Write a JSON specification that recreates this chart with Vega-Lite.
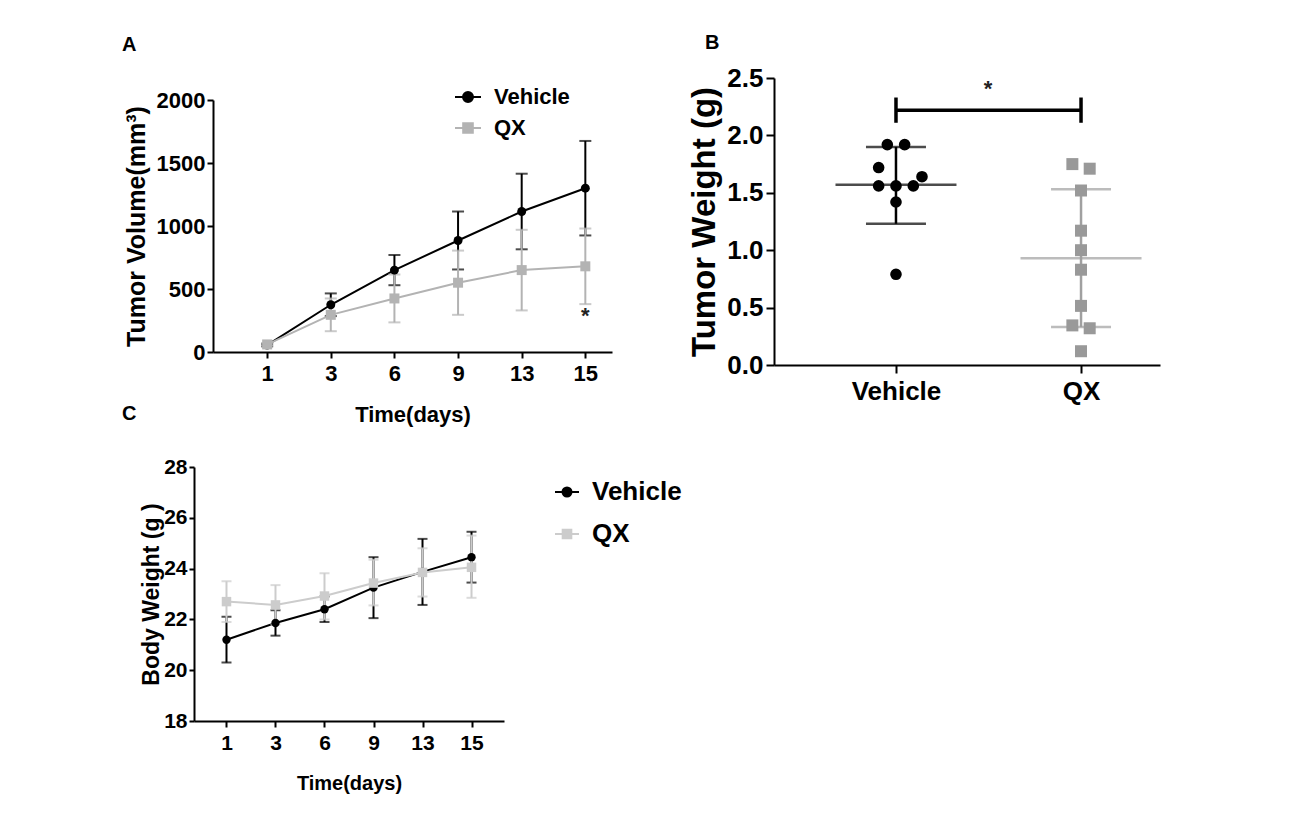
{
  "$schema": "https://vega.github.io/schema/vega-lite/v6.json",
  "autosize": {"type": "none"},
  "padding": {"left": 194, "top": 78, "right": 1122, "bottom": 738},
  "background": "white",
  "config": {
    "font": "Liberation Sans",
    "view": {"stroke": null},
    "axis": {"domainColor": "#000", "domainWidth": 2, "tickColor": "#000", "tickWidth": 2, "labelColor": "#000", "labelFontWeight": "bold", "titleColor": "#000", "titleFontWeight": "bold", "grid": false, "labelFont": "Liberation Sans", "titleFont": "Liberation Sans"},
    "title": {"font": "Liberation Sans", "fontWeight": "bold", "color": "#000", "anchor": "start", "frame": "group"},
    "legend": {"labelFont": "Liberation Sans", "labelFontWeight": "bold", "labelColor": "#000"}
  },
  "datasets": {
    "tumorVolume": [
      {"day": 1, "group": "Vehicle", "mean": 55, "lo": 45, "hi": 65},
      {"day": 3, "group": "Vehicle", "mean": 375, "lo": 285, "hi": 465},
      {"day": 6, "group": "Vehicle", "mean": 650, "lo": 530, "hi": 770},
      {"day": 9, "group": "Vehicle", "mean": 885, "lo": 655, "hi": 1115},
      {"day": 13, "group": "Vehicle", "mean": 1115, "lo": 815, "hi": 1415},
      {"day": 15, "group": "Vehicle", "mean": 1300, "lo": 925, "hi": 1675},
      {"day": 1, "group": "QX", "mean": 60, "lo": 50, "hi": 70},
      {"day": 3, "group": "QX", "mean": 295, "lo": 165, "hi": 425},
      {"day": 6, "group": "QX", "mean": 425, "lo": 235, "hi": 615},
      {"day": 9, "group": "QX", "mean": 550, "lo": 295, "hi": 805},
      {"day": 13, "group": "QX", "mean": 650, "lo": 330, "hi": 970},
      {"day": 15, "group": "QX", "mean": 680, "lo": 380, "hi": 980}
    ],
    "tumorWeight": [
      {"group": "Vehicle", "weight": 1.92, "slot": -1},
      {"group": "Vehicle", "weight": 1.92, "slot": 1},
      {"group": "Vehicle", "weight": 1.72, "slot": -2},
      {"group": "Vehicle", "weight": 1.64, "slot": 3},
      {"group": "Vehicle", "weight": 1.56, "slot": -2},
      {"group": "Vehicle", "weight": 1.56, "slot": 0},
      {"group": "Vehicle", "weight": 1.56, "slot": 2},
      {"group": "Vehicle", "weight": 1.42, "slot": 0},
      {"group": "Vehicle", "weight": 0.79, "slot": 0},
      {"group": "QX", "weight": 1.75, "slot": -1},
      {"group": "QX", "weight": 1.71, "slot": 1},
      {"group": "QX", "weight": 1.52, "slot": 0},
      {"group": "QX", "weight": 1.17, "slot": 0},
      {"group": "QX", "weight": 1.0, "slot": 0},
      {"group": "QX", "weight": 0.83, "slot": 0},
      {"group": "QX", "weight": 0.515, "slot": 0},
      {"group": "QX", "weight": 0.345, "slot": -1},
      {"group": "QX", "weight": 0.32, "slot": 1},
      {"group": "QX", "weight": 0.12, "slot": 0}
    ],
    "weightSummary": [
      {"group": "Vehicle", "mean": 1.57, "lo": 1.23, "hi": 1.9},
      {"group": "QX", "mean": 0.93, "lo": 0.33, "hi": 1.53}
    ],
    "bracket": [{"from": "Vehicle", "to": "QX", "y": 2.22, "mark": "*", "ystar": 2.4}],
    "bracketEnds": [
      {"group": "Vehicle", "lo": 2.11, "hi": 2.33},
      {"group": "QX", "lo": 2.11, "hi": 2.33}
    ],
    "bodyWeight": [
      {"day": 1, "group": "Vehicle", "mean": 21.2, "lo": 20.3, "hi": 22.1},
      {"day": 3, "group": "Vehicle", "mean": 21.86, "lo": 21.36, "hi": 22.36},
      {"day": 6, "group": "Vehicle", "mean": 22.4, "lo": 21.9, "hi": 22.9},
      {"day": 9, "group": "Vehicle", "mean": 23.25, "lo": 22.05, "hi": 24.45},
      {"day": 13, "group": "Vehicle", "mean": 23.87, "lo": 22.57, "hi": 25.17},
      {"day": 15, "group": "Vehicle", "mean": 24.45, "lo": 23.45, "hi": 25.45},
      {"day": 1, "group": "QX", "mean": 22.7, "lo": 21.9, "hi": 23.5},
      {"day": 3, "group": "QX", "mean": 22.57, "lo": 21.8, "hi": 23.35},
      {"day": 6, "group": "QX", "mean": 22.92, "lo": 22.0, "hi": 23.82},
      {"day": 9, "group": "QX", "mean": 23.43, "lo": 22.55, "hi": 24.35},
      {"day": 13, "group": "QX", "mean": 23.85, "lo": 22.9, "hi": 24.8},
      {"day": 15, "group": "QX", "mean": 24.05, "lo": 22.85, "hi": 25.3}
    ],
    "stars": [{"day": 15, "y": 285, "mark": "*"}]
  },
  "columns": 2,
  "spacing": {"row": 102, "column": 162},
  "bounds": "flush",
  "align": "all",
  "resolve": {
    "scale": {"color": "independent", "shape": "independent", "stroke": "independent"},
    "legend": {"color": "independent", "shape": "independent", "stroke": "independent"}
  },
  "concat": [
    {
      "width": 418,
      "height": 274,
      "title": {"text": "A", "fontSize": 20, "dx": -72, "dy": -19},
      "data": {"name": "tumorVolume"},
      "encoding": {
        "x": {"field": "day", "type": "ordinal",
          "scale": {"type": "point", "domain": [1, 3, 6, 9, 13, 15], "range": [19, 418], "padding": 0.635, "align": 0.67},
          "axis": {"title": "Time(days)", "titleFontSize": 22, "labelFontSize": 22, "labelAngle": 0, "labelPadding": 5, "tickSize": 6, "titlePadding": 20}}
      },
      "layer": [
        {
          "transform": [{"filter": {"field": "group", "equal": "Vehicle"}}],
          "mark": {"type": "line", "color": "#000", "strokeWidth": 2},
          "encoding": {"y": {"field": "mean", "type": "quantitative", "scale": {"domain": [0, 2000], "range": [274, 22], "nice": false, "zero": true},
            "title": "Tumor Volume(mm³)",
            "axis": {"title": "Tumor Volume(mm³)", "values": [0, 500, 1000, 1500, 2000], "format": "d", "offset": -19, "titleFontSize": 25, "labelFontSize": 22, "labelPadding": 2, "tickSize": 6, "titlePadding": 7}}}
        },
        {
          "transform": [{"filter": {"field": "group", "equal": "Vehicle"}}],
          "mark": {"type": "rule", "color": "#000", "strokeWidth": 2},
          "encoding": {"y": {"field": "lo", "type": "quantitative"}, "y2": {"field": "hi"}}
        },
        {
          "transform": [{"filter": {"field": "group", "equal": "Vehicle"}}],
          "mark": {"type": "tick", "orient": "horizontal", "color": "#000", "size": 12, "thickness": 2},
          "encoding": {"y": {"field": "hi", "type": "quantitative"}}
        },
        {
          "transform": [{"filter": {"field": "group", "equal": "Vehicle"}}],
          "mark": {"type": "tick", "orient": "horizontal", "color": "#000", "size": 12, "thickness": 2},
          "encoding": {"y": {"field": "lo", "type": "quantitative"}}
        },
        {
          "transform": [{"filter": {"field": "group", "equal": "QX"}}],
          "mark": {"type": "line", "color": "#b3b3b3", "strokeWidth": 2},
          "encoding": {"y": {"field": "mean", "type": "quantitative"}}
        },
        {
          "transform": [{"filter": {"field": "group", "equal": "QX"}}],
          "mark": {"type": "rule", "color": "#b3b3b3", "strokeWidth": 2},
          "encoding": {"y": {"field": "lo", "type": "quantitative"}, "y2": {"field": "hi"}}
        },
        {
          "transform": [{"filter": {"field": "group", "equal": "QX"}}],
          "mark": {"type": "tick", "orient": "horizontal", "color": "#b3b3b3", "size": 12, "thickness": 2},
          "encoding": {"y": {"field": "hi", "type": "quantitative"}}
        },
        {
          "transform": [{"filter": {"field": "group", "equal": "QX"}}],
          "mark": {"type": "tick", "orient": "horizontal", "color": "#b3b3b3", "size": 12, "thickness": 2},
          "encoding": {"y": {"field": "lo", "type": "quantitative"}}
        },
        {
          "transform": [{"filter": {"field": "group", "equal": "Vehicle"}}],
          "mark": {"type": "circle", "color": "#000", "size": 80, "opacity": 1},
          "encoding": {"y": {"field": "mean", "type": "quantitative"}}
        },
        {
          "transform": [{"filter": {"field": "group", "equal": "QX"}}],
          "mark": {"type": "square", "color": "#b3b3b3", "size": 100, "opacity": 1},
          "encoding": {"y": {"field": "mean", "type": "quantitative"}}
        },
        {
          "transform": [{"filter": "false"}],
          "mark": {"type": "point", "filled": true, "strokeWidth": 2, "opacity": 1},
          "encoding": {
            "color": {"field": "group", "type": "nominal", "scale": {"domain": ["Vehicle", "QX"], "range": ["#000000", "#b3b3b3"]},
              "legend": {"orient": "none", "legendX": 260, "legendY": 5, "direction": "vertical", "title": null, "labelFontSize": 22, "symbolSize": 676, "symbolStrokeWidth": 2, "labelOffset": 12, "rowPadding": 6, "padding": 0}},
            "stroke": {"field": "group", "type": "nominal", "scale": {"domain": ["Vehicle", "QX"], "range": ["#000000", "#b3b3b3"]},
              "legend": {"orient": "none", "legendX": 260, "legendY": 5, "direction": "vertical", "title": null, "labelFontSize": 22, "symbolSize": 676, "symbolStrokeWidth": 2, "labelOffset": 12, "rowPadding": 6, "padding": 0}},
            "shape": {"field": "group", "type": "nominal", "scale": {"domain": ["Vehicle", "QX"], "range": ["M-1,0L1,0M0.385,0A0.385,0.385,0,1,1,-0.385,0A0.385,0.385,0,1,1,0.385,0Z", "M-1,0L1,0M-0.37,-0.37L0.37,-0.37L0.37,0.37L-0.37,0.37Z"]},
              "legend": {"orient": "none", "legendX": 260, "legendY": 5, "direction": "vertical", "title": null, "labelFontSize": 22, "symbolSize": 676, "symbolStrokeWidth": 2, "labelOffset": 12, "rowPadding": 6, "padding": 0}}
          }
        },
        {
          "data": {"name": "stars"},
          "mark": {"type": "text", "fontSize": 22, "fontWeight": "bold", "color": "#222", "baseline": "middle"},
          "encoding": {"x": {"field": "day", "type": "ordinal"}, "y": {"field": "y", "type": "quantitative"}, "text": {"field": "mark"}}
        }
      ]
    },
    {
      "width": 386,
      "height": 287,
      "title": {"text": "B", "fontSize": 20, "dx": -69, "dy": -8},
      "encoding": {
        "x": {"field": "group", "type": "nominal",
          "scale": {"type": "point", "domain": ["Vehicle", "QX"], "padding": 0.543, "align": 0.607},
          "axis": {"title": null, "labelFontSize": 26, "labelAngle": 0, "labelPadding": 5, "tickSize": 8}}
      },
      "layer": [
        {
          "data": {"name": "weightSummary"},
          "mark": {"type": "tick", "orient": "horizontal", "size": 121, "thickness": 2.5},
          "encoding": {
            "y": {"field": "mean", "type": "quantitative", "scale": {"domain": [0, 2.5], "nice": false},
              "title": "Tumor Weight (g)",
              "axis": {"title": "Tumor Weight (g)", "values": [0, 0.5, 1, 1.5, 2, 2.5], "format": ".1f", "titleFontSize": 33, "labelFontSize": 26, "labelPadding": 3, "tickSize": 8, "titlePadding": 5}},
            "color": {"field": "group", "type": "nominal", "scale": {"domain": ["Vehicle", "QX"], "range": ["#000000", "#a0a0a0"]}, "legend": null}
          }
        },
        {
          "data": {"name": "weightSummary"},
          "mark": {"type": "rule", "strokeWidth": 2.5},
          "encoding": {
            "y": {"field": "lo", "type": "quantitative"}, "y2": {"field": "hi"},
            "color": {"field": "group", "type": "nominal", "legend": null}
          }
        },
        {
          "data": {"name": "weightSummary"},
          "mark": {"type": "tick", "orient": "horizontal", "size": 60, "thickness": 2.5},
          "encoding": {"y": {"field": "lo", "type": "quantitative"}, "color": {"field": "group", "type": "nominal", "legend": null}}
        },
        {
          "data": {"name": "weightSummary"},
          "mark": {"type": "tick", "orient": "horizontal", "size": 60, "thickness": 2.5},
          "encoding": {"y": {"field": "hi", "type": "quantitative"}, "color": {"field": "group", "type": "nominal", "legend": null}}
        },
        {
          "data": {"name": "tumorWeight"},
          "transform": [{"filter": {"field": "group", "equal": "Vehicle"}}],
          "mark": {"type": "circle", "color": "#000", "size": 135, "opacity": 1},
          "encoding": {
            "y": {"field": "weight", "type": "quantitative"},
            "xOffset": {"field": "slot", "type": "quantitative", "scale": {"domain": [-3, 3], "range": [-26, 26]}}
          }
        },
        {
          "data": {"name": "tumorWeight"},
          "transform": [{"filter": {"field": "group", "equal": "QX"}}],
          "mark": {"type": "square", "color": "#999999", "size": 144, "opacity": 1},
          "encoding": {
            "y": {"field": "weight", "type": "quantitative"},
            "xOffset": {"field": "slot", "type": "quantitative", "scale": {"domain": [-3, 3], "range": [-26, 26]}}
          }
        },
        {
          "data": {"name": "bracket"},
          "mark": {"type": "rule", "color": "#000", "strokeWidth": 3.5},
          "encoding": {"x": {"field": "from", "type": "nominal"}, "x2": {"field": "to"}, "y": {"field": "y", "type": "quantitative"}}
        },
        {
          "data": {"name": "bracketEnds"},
          "mark": {"type": "rule", "color": "#000", "strokeWidth": 3.5},
          "encoding": {"y": {"field": "lo", "type": "quantitative"}, "y2": {"field": "hi"}}
        },
        {
          "data": {"name": "bracket"},
          "mark": {"type": "text", "fontSize": 22, "fontWeight": "bold", "color": "#222", "baseline": "middle", "dx": 92},
          "encoding": {"x": {"field": "from", "type": "nominal"}, "y": {"field": "ystar", "type": "quantitative"}, "text": {"field": "mark"}}
        }
      ]
    },
    {
      "width": 310,
      "height": 254,
      "title": {"text": "C", "fontSize": 20, "dx": -72, "dy": -28},
      "data": {"name": "bodyWeight"},
      "encoding": {
        "x": {"field": "day", "type": "ordinal",
          "scale": {"type": "point", "domain": [1, 3, 6, 9, 13, 15], "padding": 0.663, "align": 0.5},
          "axis": {"title": "Time(days)", "titleFontSize": 20, "labelFontSize": 21, "labelAngle": 0, "labelPadding": 5, "tickSize": 6, "titlePadding": 20}}
      },
      "layer": [
        {
          "transform": [{"filter": {"field": "group", "equal": "Vehicle"}}],
          "mark": {"type": "line", "color": "#000", "strokeWidth": 2},
          "encoding": {"y": {"field": "mean", "type": "quantitative", "scale": {"domain": [18, 28], "nice": false, "zero": false},
            "title": "Body Weight (g )",
            "axis": {"title": "Body Weight (g )", "values": [18, 20, 22, 24, 26, 28], "format": "d", "titleFontSize": 23, "labelFontSize": 21, "labelPadding": 2, "tickSize": 5, "titlePadding": 0}}}
        },
        {
          "transform": [{"filter": {"field": "group", "equal": "Vehicle"}}],
          "mark": {"type": "rule", "color": "#000", "strokeWidth": 2},
          "encoding": {"y": {"field": "lo", "type": "quantitative"}, "y2": {"field": "hi"}}
        },
        {
          "transform": [{"filter": {"field": "group", "equal": "Vehicle"}}],
          "mark": {"type": "tick", "orient": "horizontal", "color": "#000", "size": 10, "thickness": 2},
          "encoding": {"y": {"field": "hi", "type": "quantitative"}}
        },
        {
          "transform": [{"filter": {"field": "group", "equal": "Vehicle"}}],
          "mark": {"type": "tick", "orient": "horizontal", "color": "#000", "size": 10, "thickness": 2},
          "encoding": {"y": {"field": "lo", "type": "quantitative"}}
        },
        {
          "transform": [{"filter": {"field": "group", "equal": "QX"}}],
          "mark": {"type": "line", "color": "#cccccc", "strokeWidth": 2},
          "encoding": {"y": {"field": "mean", "type": "quantitative"}}
        },
        {
          "transform": [{"filter": {"field": "group", "equal": "QX"}}],
          "mark": {"type": "rule", "color": "#cccccc", "strokeWidth": 2},
          "encoding": {"y": {"field": "lo", "type": "quantitative"}, "y2": {"field": "hi"}}
        },
        {
          "transform": [{"filter": {"field": "group", "equal": "QX"}}],
          "mark": {"type": "tick", "orient": "horizontal", "color": "#cccccc", "size": 10, "thickness": 2},
          "encoding": {"y": {"field": "hi", "type": "quantitative"}}
        },
        {
          "transform": [{"filter": {"field": "group", "equal": "QX"}}],
          "mark": {"type": "tick", "orient": "horizontal", "color": "#cccccc", "size": 10, "thickness": 2},
          "encoding": {"y": {"field": "lo", "type": "quantitative"}}
        },
        {
          "transform": [{"filter": {"field": "group", "equal": "Vehicle"}}],
          "mark": {"type": "circle", "color": "#000", "size": 70, "opacity": 1},
          "encoding": {"y": {"field": "mean", "type": "quantitative"}}
        },
        {
          "transform": [{"filter": {"field": "group", "equal": "QX"}}],
          "mark": {"type": "square", "color": "#cccccc", "size": 90, "opacity": 1},
          "encoding": {"y": {"field": "mean", "type": "quantitative"}}
        },
        {
          "transform": [{"filter": "false"}],
          "mark": {"type": "point", "filled": true, "strokeWidth": 2, "opacity": 1},
          "encoding": {
            "color": {"field": "group", "type": "nominal", "scale": {"domain": ["Vehicle", "QX"], "range": ["#000000", "#cccccc"]},
              "legend": {"orient": "none", "legendX": 360, "legendY": 12, "direction": "vertical", "title": null, "labelFontSize": 26, "symbolSize": 576, "symbolStrokeWidth": 2, "labelOffset": 12, "rowPadding": 16, "padding": 0}},
            "stroke": {"field": "group", "type": "nominal", "scale": {"domain": ["Vehicle", "QX"], "range": ["#000000", "#cccccc"]},
              "legend": {"orient": "none", "legendX": 360, "legendY": 12, "direction": "vertical", "title": null, "labelFontSize": 26, "symbolSize": 576, "symbolStrokeWidth": 2, "labelOffset": 12, "rowPadding": 16, "padding": 0}},
            "shape": {"field": "group", "type": "nominal", "scale": {"domain": ["Vehicle", "QX"], "range": ["M-1,0L1,0M0.375,0A0.375,0.375,0,1,1,-0.375,0A0.375,0.375,0,1,1,0.375,0Z", "M-1,0L1,0M-0.36,-0.36L0.36,-0.36L0.36,0.36L-0.36,0.36Z"]},
              "legend": {"orient": "none", "legendX": 360, "legendY": 12, "direction": "vertical", "title": null, "labelFontSize": 26, "symbolSize": 576, "symbolStrokeWidth": 2, "labelOffset": 12, "rowPadding": 16, "padding": 0}}
          }
        }
      ]
    }
  ]
}
